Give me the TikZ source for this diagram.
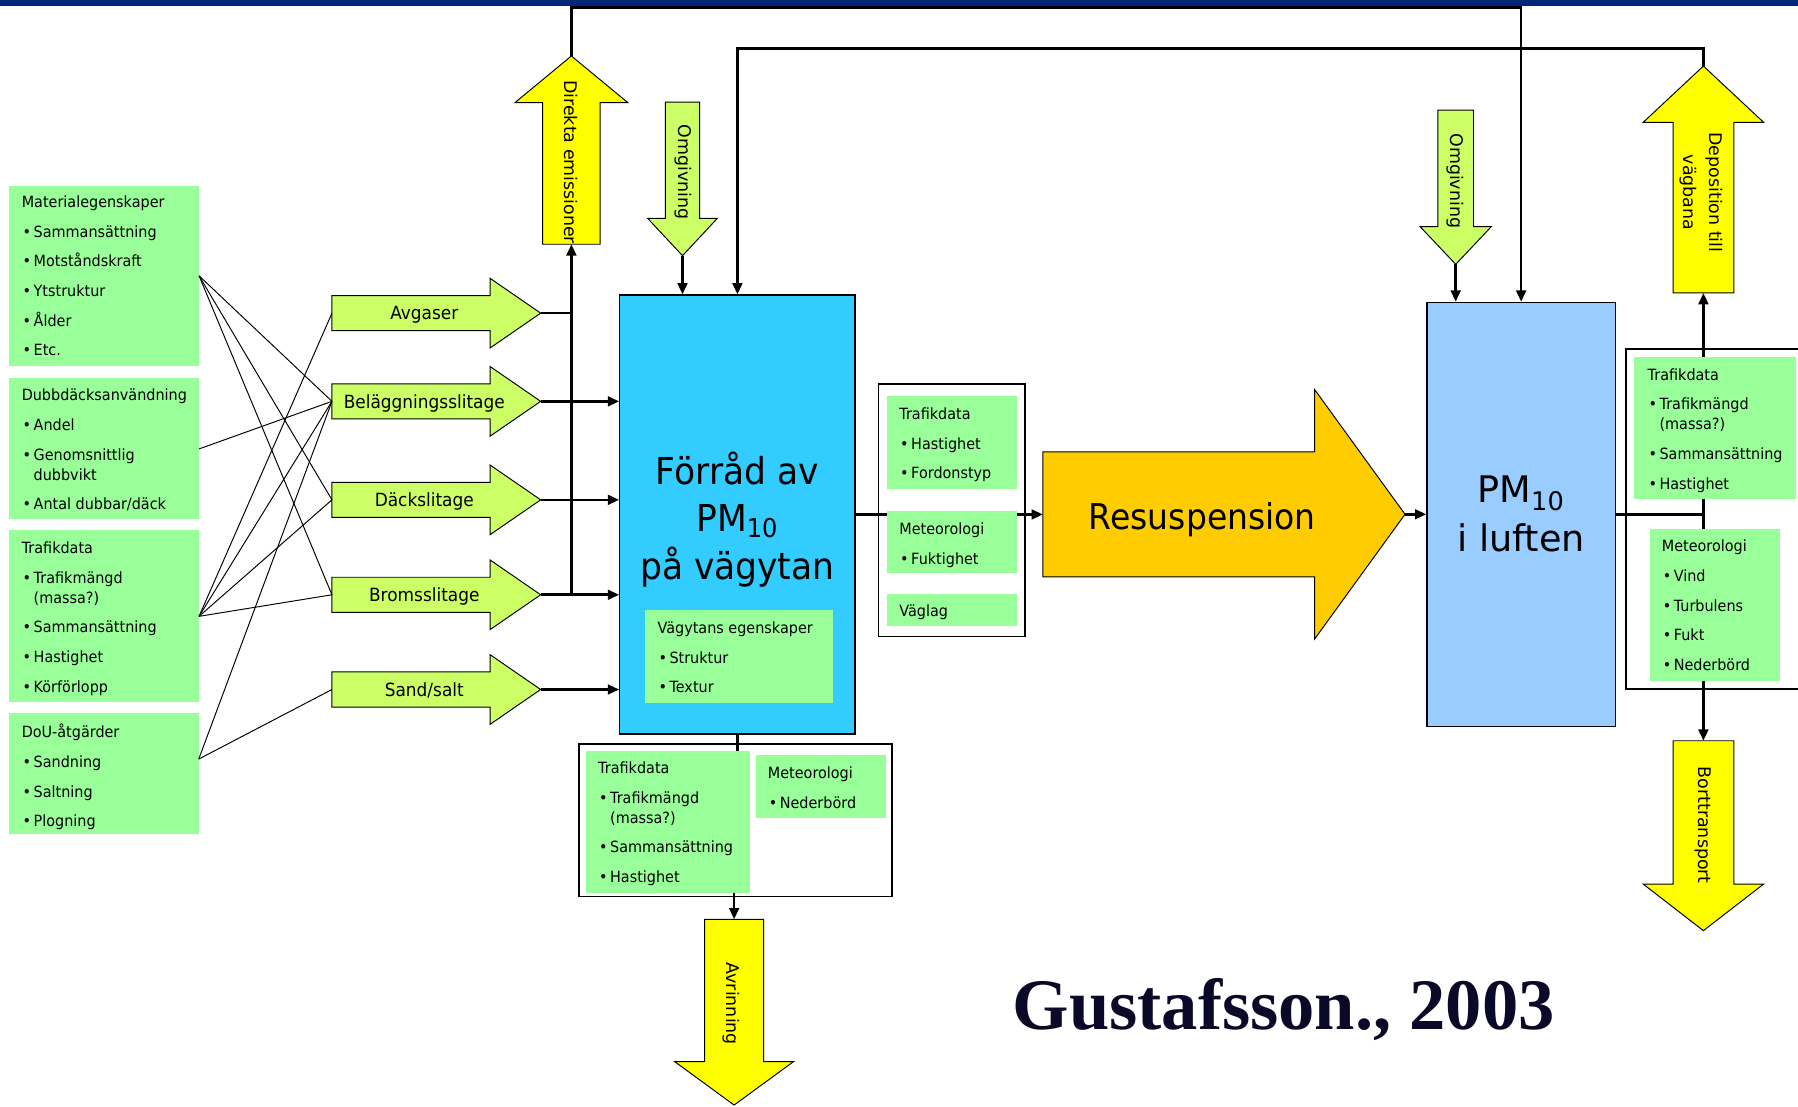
\documentclass[tikz,border=0pt]{standalone}
\usepackage{fontspec}
\setmainfont{DejaVu Sans}[FakeStretch=0.93]
\newfontfamily\widefont{DejaVu Sans}
\newfontfamily\citefont{Liberation Serif}
\usetikzlibrary{arrows.meta,fit}
\definecolor{navybar}{RGB}{0,40,120}
\definecolor{boxgreen}{RGB}{153,255,153}
\definecolor{limegreen}{RGB}{204,255,102}
\definecolor{pmyellow}{RGB}{255,255,0}
\definecolor{roadblue}{RGB}{51,204,255}
\definecolor{airblue}{RGB}{153,204,255}
\definecolor{resorange}{RGB}{255,204,0}
\definecolor{citeblue}{RGB}{10,10,40}
\newcommand\bul{\makebox[0.26cm][l]{\hspace{0.02cm}•}}
\newcommand\cont{\\[-6pt]\hspace*{0.26cm}}
\newcommand\hblock[8]{\draw[#1] (#5,#2-#3) -- (#6,#2-#3) -- (#6,#2-#4) -- (#7,#2) -- (#6,#2+#4) -- (#6,#2+#3) -- (#5,#2+#3) -- cycle;
  \coordinate (#8-tip) at (#7,#2);
  \coordinate (#8-tail) at (#5,#2);}
\newcommand\vblock[8]{\draw[#1] (#2-#3,#5) -- (#2-#3,#6) -- (#2-#4,#6) -- (#2,#7) -- (#2+#4,#6) -- (#2+#3,#6) -- (#2+#3,#5) -- cycle;
  \coordinate (#8-tip) at (#2,#7);
  \coordinate (#8-tail) at (#2,#5);}
\tikzset{infobox/.style={fill=boxgreen, inner sep=0pt},
  dataframe/.style={draw=black, line width=0.9pt, inner sep=0pt},
  listtext/.style={anchor=north west, inner sep=0pt, align=left, font=\fontsize{9.6}{18.4}\selectfont},
  limearrow/.style={draw=black, line width=0.6pt, fill=limegreen},
  yellowarrow/.style={draw=black, line width=0.6pt, fill=pmyellow},
  slitlabel/.style={anchor=base, inner sep=0pt, font=\fontsize{11.3}{13}\selectfont},
  sidelabel/.style={rotate=-90, inner sep=0pt, align=center, font=\widefont\fontsize{10.8}{16.3}\selectfont},
  bigbox/.style={draw=black, line width=0.8pt, inner sep=0pt},
  flow/.style={line width=1.6pt, -{Triangle[length=7pt,width=6pt]}},
  link/.style={line width=1.6pt},
  fan/.style={line width=0.6pt}}

\begin{document}
\begin{tikzpicture}[x=0.025cm, y=-0.025cm]
\useasboundingbox (0,0) rectangle (1568,965);
\clip (0,0) rectangle (1568,965);
\fill[navybar] (0,0) rectangle (1568,5);

\node[bigbox, fill=roadblue, fit={(540.5,257.3) (745.7,640)}] (forrad) {};
\node[bigbox, fill=airblue, fit={(1244.4,263.7) (1408.7,633.7)}] (luft) {};
\node[align=center, inner sep=0pt, font=\fontsize{23}{29.4}\selectfont] (forrad-text) at (643,453) {Förråd av\\PM\textsubscript{10}\\på vägytan};
\node[align=center, inner sep=0pt, font=\widefont\fontsize{22.7}{29.9}\selectfont] (luft-text) at (1326.5,448.2) {PM\textsubscript{10}\\i luften};

\vblock{yellowarrow}{498.3}{25}{49.2}{213}{89.5}{48.8}{direkta}
\node[sidelabel] (direkta-text) at (498.3,141.4) {Direkta emissioner};
\vblock{limearrow}{595.2}{15}{30.4}{89}{190.4}{223}{omg1}
\node[sidelabel] (omg1-text) at (595.5,150) {Omgivning};
\vblock{limearrow}{1269.5}{15.5}{31}{96}{197.7}{230.5}{omg2}
\node[sidelabel] (omg2-text) at (1269,157.7) {Omgivning};
\vblock{yellowarrow}{1485.5}{26.5}{52.5}{255.5}{106.7}{57.6}{depos}
\node[sidelabel] (depos-text) at (1483.5,167.9) {Deposition till\\vägbana};
\vblock{yellowarrow}{1485.5}{26.5}{52.5}{646}{771}{811.6}{bort}
\node[sidelabel] (bort-text) at (1485.6,719.7) {Borttransport};
\vblock{yellowarrow}{640.2}{25.8}{51.7}{801.7}{925.9}{963.7}{avrin}
\node[sidelabel] (avrin-text) at (638,875.4) {Avrinning};

\hblock{draw=black, line width=0.6pt, fill=resorange}{448.5}{54.5}{108.7}{909.5}{1146.5}{1225.3}{resusp}
\node[anchor=base, inner sep=0pt, font=\fontsize{22}{26}\selectfont] (resusp-text) at (1048.5,462) {Resuspension};

\foreach \nm/\yy/\txt in {avgaser/273.1/Avgaser, belagg/350/Beläggningsslitage, dack/435.9/Däckslitage, broms/518.7/Bromsslitage, sand/601.3/{Sand/salt}}{
  \hblock{limearrow}{\yy}{15.3}{30.3}{289.5}{427.5}{471.5}{\nm}
  \node[slitlabel] (\nm-text) at (370,\yy+5.9) {\txt};
}

\draw[flow] (direkta-tip) -- ++(0,-42.4) -| (luft.north);
\draw[flow] (depos-tip) -- ++(0,-15.5) -| (forrad.north);
\draw[flow] (omg1-tip) -- (omg1-tip |- forrad.north);
\draw[flow] (omg2-tip) -- (omg2-tip |- luft.north);
\draw[link] (avgaser-tip) -- (avgaser-tip -| direkta-tail);
\foreach \nm in {belagg,dack,broms,sand}
  \draw[flow] (\nm-tip) -- (\nm-tip -| forrad.west);
\draw[flow] (broms-tip -| direkta-tail) -- (direkta-tail);
\draw[flow] (forrad.east) -- (forrad.east -| resusp-tail);
\draw[flow] (resusp-tip) -- (resusp-tip -| luft.west);
\draw[link] (luft.east) -- (luft.east -| depos-tail);
\draw[flow] (luft.east -| depos-tail) -- (depos-tail);
\draw[flow] (luft.east -| bort-tail) -- (bort-tail);
\draw[flow] (forrad.south) -- ++(0,80) -| (avrin-tail);

\node[dataframe, fit={(766,335) (894,555)}] (midframe) {};
\node[dataframe, fit={(505,649) (778,782)}] (botframe) {};
\node[dataframe, fit={(1418,304.4) (1620,601)}] (rightframe) {};

\node[infobox, fit={(8,162) (173.3,319)}] (matl) {};
\node[infobox, fit={(8,330) (173.3,453)}] (dubb) {};
\node[infobox, fit={(8,462.5) (173.3,612.5)}] (trafik) {};
\node[infobox, fit={(8,622) (173.3,727.6)}] (dou) {};
\node[infobox, fit={(562.3,532) (726.5,612.8)}] (vag) {};
\node[infobox, fit={(773.6,345.4) (887,426.5)}] (midtrafik) {};
\node[infobox, fit={(773.6,446) (887,500)}] (midmeteo) {};
\node[infobox, fit={(773.6,518) (887,546)}] (vaglag) {};
\node[infobox, fit={(511,655) (654,778.5)}] (bottrafik) {};
\node[infobox, fit={(659,658.4) (772.7,713)}] (botmeteo) {};
\node[infobox, fit={(1425,311) (1566,435)}] (righttrafik) {};
\node[infobox, fit={(1439,461) (1552,594)}] (rightmeteo) {};

\node[listtext] (matl-text) at (18.7,170.5) {Materialegenskaper\\\bul Sammansättning\\\bul Motståndskraft\\\bul Ytstruktur\\\bul Ålder\\\bul Etc.};
\node[listtext] (dubb-text) at (18.7,339.1) {Dubbdäcksanvändning\\\bul Andel\\\bul Genomsnittlig\cont dubbvikt\\\bul Antal dubbar/däck};
\node[listtext] (trafik-text) at (18.7,472.2) {Trafikdata\\\bul Trafikmängd\cont(massa?)\\\bul Sammansättning\\\bul Hastighet\\\bul Körförlopp};
\node[listtext] (dou-text) at (18.7,631.2) {DoU-åtgärder\\\bul Sandning\\\bul Saltning\\\bul Plogning};
\node[listtext] (vag-text) at (573.2,542) {Vägytans egenskaper\\\bul Struktur\\\bul Textur};
\node[listtext] (midtrafik-text) at (784,355.4) {Trafikdata\\\bul Hastighet\\\bul Fordonstyp};
\node[listtext] (midmeteo-text) at (784,455.7) {Meteorologi\\\bul Fuktighet};
\node[listtext] (vaglag-text) at (784,527.5) {Väglag};
\node[listtext] (bottrafik-text) at (521.4,664.1) {Trafikdata\\\bul Trafikmängd\cont(massa?)\\\bul Sammansättning\\\bul Hastighet};
\node[listtext] (botmeteo-text) at (669.4,668.5) {Meteorologi\\\bul Nederbörd};
\node[listtext] (righttrafik-text) at (1436.6,321.1) {Trafikdata\\\bul Trafikmängd\cont(massa?)\\\bul Sammansättning\\\bul Hastighet};
\node[listtext] (rightmeteo-text) at (1449,470.8) {Meteorologi\\\bul Vind\\\bul Turbulens\\\bul Fukt\\\bul Nederbörd};

\coordinate (dou-out) at (173.3,662);
\foreach \dst in {belagg,dack,broms} \draw[fan] (matl.east) -- (\dst-tail);
\draw[fan] (dubb.east) -- (belagg-tail);
\foreach \dst in {avgaser,belagg,dack,broms} \draw[fan] (trafik.east) -- (\dst-tail);
\foreach \dst in {belagg,sand} \draw[fan] (dou-out) -- (\dst-tail);

\node[anchor=base, inner sep=0pt, text=citeblue, font=\citefont\bfseries\fontsize{45}{50}\selectfont] (cite) at (1119.5,898) {Gustafsson., 2003};
\end{tikzpicture}
\end{document}
